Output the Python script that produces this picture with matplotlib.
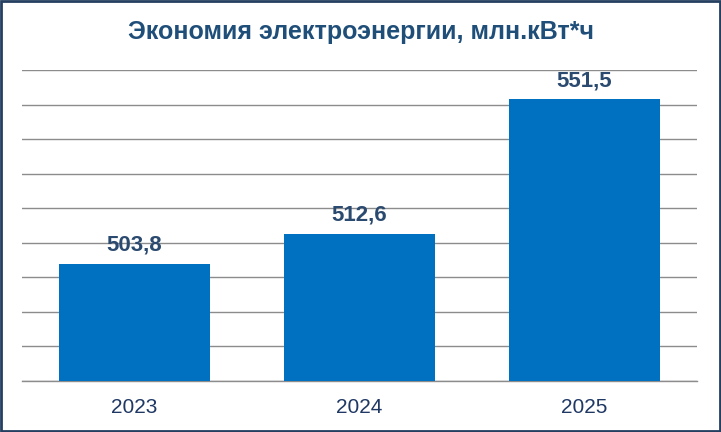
import matplotlib.pyplot as plt
from matplotlib.patches import Rectangle

years = ["2023", "2024", "2025"]
savings = [503.8, 512.6, 551.5]
value_labels = ["503,8", "512,6", "551,5"]

plt.rcParams['font.family'] = ['Liberation Sans', 'DejaVu Sans']

bar_color = "#0070C0"
text_color = "#1F3864"
label_color = "#2B4A6F"

fig = plt.figure(figsize=(7.21, 4.32), dpi=100)
ax = fig.add_axes([22 / 721, 51 / 432, 675 / 721, 311 / 432])

x = range(len(years))
ax.bar(x, savings, width=0.667, color=bar_color, zorder=3)

for i, v in enumerate(savings):
    ax.annotate(value_labels[i], (i, v), xytext=(0, 6), textcoords="offset points",
                ha="center", va="bottom", fontsize=16, fontweight="bold",
                color=label_color)

ax.set_xlim(-0.5, 2.5)
ax.set_ylim(470, 560)
ax.set_yticks(range(470, 561, 10))
ax.set_yticklabels([])
ax.set_xticks(list(x))
ax.set_xticklabels(years, fontsize=15, color=text_color)
ax.tick_params(axis="both", length=0, pad=12)
ax.grid(axis="y", color="#8C8C8C", linewidth=1.0, zorder=0)
ax.axhline(470, color="#8C8C8C", linewidth=1.0, zorder=2, clip_on=False)
for s in ax.spines.values():
    s.set_visible(False)

fig.text(0.5, 1 - 32 / 432, "Экономия электроэнергии, млн.кВт*ч", ha="center", va="center",
         fontsize=18, fontweight="bold", color="#1F4E79")

# рамка вокруг рисунка
fig.patches.append(Rectangle((0.0015, 0.0025), 0.997, 0.995, transform=fig.transFigure,
                             fill=False, edgecolor="#243F60", linewidth=2))

fig.savefig("out.png", dpi=100)
